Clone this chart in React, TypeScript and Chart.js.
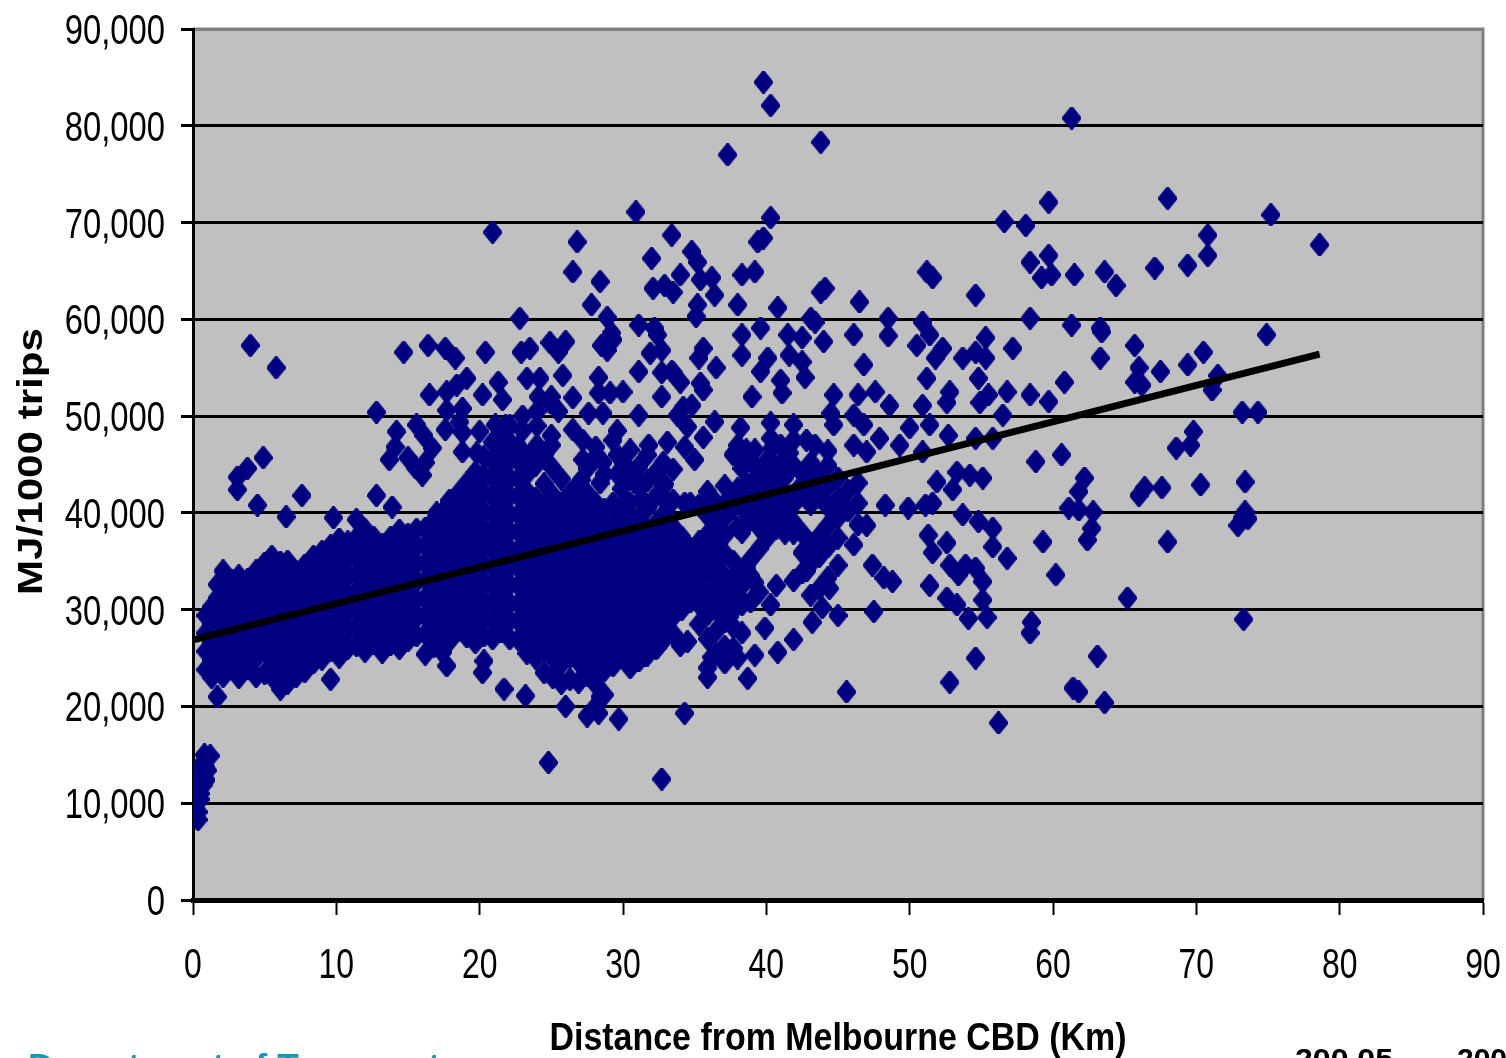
import React, { useEffect, useRef } from "react";
import { Chart, registerables } from "chart.js";

Chart.register(...registerables);

// Every row is [distance km, MJ/1000 trips, MJ/1000 trips, ...].
const nearCbd = [
  [0.35, 8300, 9100], [0.2, 9900, 11700], [0.5, 10400, 11000], [0.1, 11500], [0.4, 12400], [0.7, 11900, 13000],
  [0.9, 12400, 13700], [0.5, 13500], [0.7, 14200], [0.8, 15000], [1.2, 14900], [1.0, 13400],
];
const mass0to10 = [
  [0.9, 23800, 25700, 27600, 29400], [1.3, 23000, 24800, 26600, 28500, 30300],
  [1.7, 21000, 23900, 25700, 27500, 29400, 31200, 32600], [2.1, 23100, 25000, 26800, 28600, 30400, 32300, 34000],
  [2.7, 24000, 25800, 27700, 29500, 31300, 33000], [3.2, 23000, 24900, 26700, 28500, 30400, 32200, 33500],
  [3.8, 23900, 25800, 27600, 29400, 31300, 33100], [4.4, 23100, 25000, 26800, 28600, 30500, 32300, 34000],
  [5.0, 23400, 25800, 27600, 29500, 31300, 33100, 34800], [5.5, 23100, 24900, 26800, 28600, 30400, 32300, 34000, 35500],
  [6.1, 21800, 23900, 25800, 27600, 29500, 31300, 33100, 34900], [6.6, 22400, 24300, 26200, 28000, 29900, 31700, 33500, 35000],
  [7.2, 23100, 25000, 26800, 28700, 30500, 32300, 33900], [7.8, 23600, 25500, 27300, 29200, 31000, 32900, 34600],
  [8.4, 24500, 26300, 28200, 30000, 31900, 33700, 35500], [9.0, 24900, 26800, 28600, 30500, 32300, 34200, 36000],
  [9.6, 22800, 25800, 27700, 29500, 31400, 33200, 35000, 36600],
];
const mass10to20 = [
  [10.2, 25100, 26900, 28800, 30600, 32500, 34300, 36100, 37300], [10.8, 26000, 27800, 29700, 31500, 33400, 35200, 37000],
  [11.4, 26300, 28200, 30000, 31900, 33700, 35600, 37400], [12.0, 25700, 27500, 29400, 31200, 33100, 34900, 36700, 38300],
  [12.6, 26500, 28300, 30200, 32000, 33900, 35700, 37500], [13.2, 25600, 27500, 29300, 31200, 33000, 34800, 36700],
  [13.8, 26400, 28300, 30100, 32000, 33800, 35700, 37500], [14.4, 26000, 27800, 29700, 31500, 33400, 35200, 37000, 38200],
  [15.0, 26800, 28700, 30500, 32400, 34200, 36000, 37800], [15.6, 27300, 29200, 31000, 32900, 34700, 36500, 38300],
  [16.2, 25400, 27500, 29400, 31200, 33100, 34900, 36700, 38400], [16.8, 26200, 28100, 29900, 31800, 33600, 35500, 37300, 39200],
  [17.4, 25600, 27400, 29200, 31100, 32900, 34800, 36600, 38400, 40000], [17.9, 26800, 28700, 30500, 32400, 34200, 36100, 37900, 39700, 41000],
  [18.5, 27800, 29600, 31500, 33300, 35200, 37000, 38800, 40600, 42000], [19.1, 27200, 29100, 30900, 32800, 34600, 36500, 38300, 40100, 41900, 43100],
  [19.7, 26600, 28500, 30300, 32200, 34000, 35900, 37700, 39500, 41400, 43200, 44200],
];
const mass20to30 = [
  [20.3, 24700, 27300, 29200, 31000, 32900, 34700, 36600, 38400, 40200, 42100, 43900, 45800],
  [20.9, 27000, 28800, 30700, 32500, 34400, 36200, 38000, 39900, 41700, 43600, 45400, 47300],
  [21.5, 27700, 29500, 31400, 33200, 35100, 36900, 38700, 40600, 42400, 44300, 46100, 48000],
  [22.1, 27000, 28900, 30700, 32600, 34400, 36300, 38100, 39900, 41800, 43600, 45500, 47300, 49000],
  [22.7, 26900, 28800, 30600, 32500, 34300, 36100, 38000, 39800, 41700, 43500, 45300, 46900],
  [23.3, 25500, 27400, 29300, 31100, 33000, 34800, 36600, 38500, 40300, 42200, 44000, 45800],
  [23.9, 25000, 26800, 28700, 30500, 32400, 34200, 36000, 37900, 39700, 41500, 44900],
  [24.5, 23500, 25900, 27800, 29600, 31500, 33300, 35100, 37000, 38800, 40600, 43000, 46000],
  [25.1, 23000, 25000, 26800, 28700, 30500, 32400, 34200, 36000, 37900, 39700, 41800, 44600],
  [25.7, 22400, 24400, 26300, 28100, 30000, 31800, 33700, 35500, 37300, 39200, 41000, 43500],
  [26.3, 22800, 25100, 26900, 28800, 30600, 32500, 34300, 36100, 38000, 39800, 42000],
  [26.9, 22500, 24600, 26400, 28300, 30100, 32000, 33800, 35600, 37500, 39300, 41100, 43000],
  [27.5, 23200, 25000, 26900, 28700, 30600, 32400, 34200, 36100, 37900, 39700, 42000, 44600],
  [28.1, 20000, 22300, 24400, 26300, 28100, 30000, 31800, 33700, 35500, 37300, 39200, 41000, 46800],
  [28.7, 21200, 23700, 25500, 27400, 29200, 31100, 32900, 34800, 36600, 38400, 40300, 44000],
  [29.3, 24200, 26000, 27900, 29700, 31600, 33400, 35200, 37100, 38900, 41000],
  [29.9, 25100, 26900, 28800, 30600, 32500, 34300, 36100, 38000, 39900, 42500],
];
const mass30to47 = [
  [30.5, 24000, 25800, 27700, 29500, 31400, 33200, 35000, 36900, 38700, 41000, 43900],
  [31.1, 24700, 26600, 28400, 30300, 32100, 33900, 35800, 37600, 39500, 44800],
  [31.7, 25300, 27200, 29000, 30900, 32700, 34500, 36400, 38300, 40500, 43300, 46000],
  [32.3, 26000, 27900, 29700, 31500, 33400, 35200, 37100, 38900, 41700, 44200],
  [32.9, 27000, 28800, 30600, 32500, 34300, 36200, 38000, 40000, 43000],
  [33.5, 27500, 29300, 31200, 33000, 34800, 36700, 38500, 41300, 44500],
  [34.1, 30000, 32000, 33800, 35600, 37500],
  [34.7, 30800, 32700, 34500, 36300, 41000],
  [35.3, 28500, 31500, 33300, 35200, 37000, 40800],
  [35.9, 24000, 27000, 29500, 31400, 36000, 37800, 39700, 42200],
  [36.5, 25500, 27800, 30000, 32600, 36500, 38400, 41000],
  [37.1, 24500, 26200, 28800, 30900, 35800, 37700, 39500, 42800],
  [37.7, 26000, 28200, 30000, 35000, 40500, 46000],
  [38.3, 27600, 30500, 32500, 38000, 41600, 44600],
  [38.9, 30800, 33500, 35200, 39300, 42900, 45400],
  [39.5, 31800, 36300, 38500, 40500, 44300],
  [40.1, 37500, 39400, 41500, 43400, 45500],
  [40.7, 38400, 40600, 42400, 44200],
  [41.3, 37900, 39800, 41700, 43700, 45700],
  [41.9, 33000, 37900, 39000, 40900, 44900],
  [42.5, 33800, 35900, 37900, 42200, 44100],
  [43.1, 31500, 34800, 36800, 40900, 43000, 45200],
  [43.7, 32200, 35500, 37600, 41800, 44000],
  [44.3, 33300, 36500, 38700, 40600, 42700, 44900, 46400],
  [45.0, 37400, 39500, 41400, 43600],
  [45.7, 40200, 42300],
  [46.4, 38800, 41000, 43100],
];
const infill = [
  [21.8, 49000], [23.0, 48500, 50000], [24.0, 47000, 49000, 50500], [25.0, 47000, 48000, 52000], [25.5, 50500],
  [29.6, 44000, 46000, 48500], [30.2, 44500, 41000], [31.3, 41500, 43000], [33.0, 41200], [34.3, 41000, 46800],
  [35.0, 45500], [35.6, 34000, 35500, 30000, 32000], [36.2, 33500, 35000, 31300], [36.8, 34000, 35800, 32400, 29800],
  [37.4, 33000, 31200, 29300, 40500, 41500], [38.0, 31500, 33900, 38500, 42500, 47000],
  [38.6, 34300, 40000, 43000, 46500], [39.2, 32800, 41000, 43500, 46500], [39.8, 38000, 42000],
  [40.4, 42000, 46700], [41.0, 39000, 41500, 44800, 47000], [41.6, 40800, 46200], [42.2, 42400], [42.8, 34000, 47500],
];
const upper0to20 = [
  [4.0, 57300], [5.8, 55000], [4.9, 45700], [3.8, 44600], [3.1, 43700, 42400], [4.5, 40800], [7.6, 41800], [6.5, 39600],
  [12.8, 50400, 41800], [14.2, 48400], [14.1, 46800], [13.7, 45500], [15.6, 49100], [16.1, 48000], [16.7, 46700],
  [15.0, 45700], [15.5, 44700], [16.0, 43900], [16.2, 45200], [14.7, 56600], [16.4, 57300], [17.6, 57000, 48600],
  [18.3, 56000], [16.5, 52200], [17.7, 52500, 50600], [18.4, 53200], [19.1, 53900], [18.8, 50800, 48300, 46300],
  [18.6, 49400], [19.8, 46200], [13.9, 40600], [9.8, 39500], [11.4, 39300], [17.9, 41300], [17.0, 40000],
];
const upper20to36 = [
  [20.2, 52200], [21.3, 53500], [21.6, 51700], [20.0, 48400], [21.1, 49100], [20.4, 56600], [20.9, 69000],
  [22.8, 60100], [23.5, 57000], [22.9, 56600], [24.9, 57600, 51400], [26.0, 57700], [25.5, 56600], [26.8, 68000],
  [26.5, 64900, 51900, 48600], [28.4, 63900, 43100], [27.8, 61500], [28.9, 60200, 56800], [29.2, 58600], [29.3, 57900, 47500],
  [28.5, 57300], [31.1, 59400, 54600, 50100], [32.2, 59100], [32.4, 58400], [32.7, 56800, 54500, 52000], [31.9, 56500],
  [33.5, 54500, 62800], [33.1, 47300], [30.9, 71100], [33.4, 68700, 54600], [32.0, 66300], [34.0, 64600, 53500], [32.1, 63200],
  [32.9, 63500], [34.8, 67000, 51100], [35.2, 65900, 61500], [35.4, 64100, 53400], [36.2, 64300], [36.4, 62500, 49400],
  [35.1, 60300], [23.3, 53900], [24.2, 53900], [24.1, 52000], [25.8, 54200], [28.3, 54000, 52400], [29.1, 52400],
  [30.0, 52500, 45200], [27.6, 50300], [28.6, 50300, 45200], [27.2, 47500, 45500], [28.1, 45800], [27.1, 43400],
  [30.5, 46500], [31.8, 47000], [30.8, 43100], [32.8, 45200, 42700], [35.6, 57000, 52700, 47800], [35.3, 56000], [36.5, 55000],
  [34.2, 50900], [33.8, 50100], [34.5, 48900],
];
const upper36to57 = [
  [38.0, 61500], [38.3, 64600, 58400, 56300], [39.2, 64900], [39.4, 68000], [39.8, 68400, 84500], [40.3, 70500, 82100, 49300, 47700],
  [43.8, 78300, 62800], [37.3, 77000], [40.8, 61200], [44.1, 63200], [46.5, 61800], [51.2, 64900, 53900], [51.6, 64300],
  [54.6, 62500, 56600, 47700], [39.6, 59100, 54600], [40.1, 56000], [41.5, 58400], [42.5, 58100, 55600], [41.6, 56300],
  [42.7, 54000], [41.0, 53700], [41.1, 52400], [39.0, 52000], [43.1, 60100], [43.4, 59700, 47000], [44.0, 57700], [46.1, 58400, 50100, 47000],
  [48.5, 60100, 58300], [50.9, 59700, 51100, 46300], [51.4, 58400, 49100], [50.5, 57300], [52.3, 57000], [51.8, 56000], [53.7, 56000],
  [55.3, 58100, 56000], [57.2, 57000], [46.8, 55300, 49100], [54.8, 53900], [52.8, 52500], [52.6, 51400], [55.5, 52200],
  [54.9, 51400], [56.8, 52500], [56.5, 50100], [48.6, 51100], [46.4, 52200], [47.6, 52500], [44.7, 52200, 49100], [44.5, 50300],
  [38.2, 48800], [41.9, 49100, 47500], [47.9, 47700], [49.3, 47000], [50.0, 48800], [52.7, 48000], [55.8, 47700], [37.8, 46200], [47.0, 46300],
];
const lowerRight = [
  [55.1, 43600, 32900, 31000], [54.2, 43900], [53.3, 44200, 30500], [51.9, 43200], [53.0, 42400], [51.6, 41000, 35900], [51.1, 40800],
  [49.9, 40500], [48.3, 40800], [53.7, 39800], [54.8, 39100], [55.8, 38400, 36500], [56.8, 35300], [51.3, 37700], [52.6, 36900, 31200],
  [52.8, 34600, 22500], [53.9, 34600], [54.6, 34300, 25000], [53.4, 33600], [55.4, 29200], [54.1, 29100], [51.4, 32500], [48.8, 32900],
  [48.2, 33300], [47.4, 34600], [46.1, 36700], [47.5, 29800], [45.0, 29400, 34600], [43.9, 30200], [43.2, 28700], [41.9, 26900],
  [40.8, 25600], [39.2, 25300], [39.9, 28100], [40.3, 30500], [40.7, 32500], [44.4, 32200], [47.0, 38700], [38.7, 22900], [35.9, 23000],
  [38.0, 25000], [36.2, 25100], [45.6, 21500], [56.2, 18300], [34.3, 19300], [32.7, 12500], [34.5, 26700], [34.0, 26300], [32.4, 26100], [31.5, 25300],
];
const farRight = [
  [59.7, 72100, 66600, 51500], [68.0, 72500, 37000], [56.6, 70100], [58.1, 69700], [75.2, 70800], [70.8, 68700, 66600], [78.6, 67700],
  [58.4, 65900, 60100, 52200, 27600], [59.2, 64300], [59.9, 64600], [61.5, 64600], [63.6, 64900, 20400], [64.4, 63500], [67.1, 65300], [69.4, 65600, 55300],
  [61.3, 80800, 59400], [63.3, 59100, 56000], [63.4, 58700], [74.9, 58400], [65.7, 57300, 53500], [66.0, 55000, 41800], [67.5, 54600], [70.5, 56600],
  [71.5, 54200], [71.1, 52700], [66.2, 53200], [60.8, 53500], [73.2, 50400, 39500], [74.3, 50400], [69.8, 48400], [68.6, 46700], [69.6, 47000],
  [58.8, 45300], [60.6, 46000], [62.2, 43600], [61.8, 42200, 40300, 21500], [61.1, 40500], [62.8, 40100], [62.7, 38400], [62.4, 37200], [59.3, 37000],
  [60.2, 33600], [65.2, 31200], [66.4, 42600], [67.6, 42600], [70.3, 42900], [73.4, 43200, 40100], [72.9, 38700], [73.6, 39400], [73.3, 29000],
  [63.1, 25200], [61.4, 21900], [58.5, 28700],
];
const lowerMass = [
  [24.8, 14200], [20.2, 23500], [21.7, 21800], [23.2, 21100], [17.7, 24200], [26.0, 20000], [27.5, 19000], [28.3, 19300], [29.7, 18700], [28.4, 21000],
];
const trendKm = [0.1, 78.6];
const trendMj = [26900, 56400];

const yTickLabels = ["0", "10,000", "20,000", "30,000", "40,000", "50,000", "60,000", "70,000", "80,000", "90,000"];
const xTickLabels = ["0", "10", "20", "30", "40", "50", "60", "70", "80", "90"];
const xTitle = "Distance from Melbourne CBD (Km)";
const yTitle = "MJ/1000 trips";
const bands = [nearCbd, mass0to10, mass10to20, mass20to30, mass30to47, infill, upper0to20, upper20to36, upper36to57, lowerRight, farRight, lowerMass];

function diamond(): HTMLCanvasElement {
  const c = document.createElement("canvas");
  c.width = 19;
  c.height = 23;
  const g = c.getContext("2d")!;
  g.fillStyle = "#000080";
  g.beginPath();
  g.moveTo(8.5, 0);
  g.lineTo(10.5, 0);
  g.lineTo(19, 10.5);
  g.lineTo(19, 12.5);
  g.lineTo(10.5, 23);
  g.lineTo(8.5, 23);
  g.lineTo(0, 12.5);
  g.lineTo(0, 10.5);
  g.closePath();
  g.fill();
  return c;
}

function fitted(ctx: any, text: string, x: number, y: number, width: number, align: string) {
  const natural = ctx.measureText(text).width;
  const k = width / natural;
  ctx.save();
  ctx.translate(x, y);
  ctx.scale(k, 1);
  ctx.textAlign = align;
  ctx.fillText(text, 0, 0);
  ctx.restore();
}

const frame = {
  id: "frame",
  beforeDraw(chart: any) {
    const { ctx, chartArea: a } = chart;
    ctx.save();
    ctx.fillStyle = "#C0C0C0";
    ctx.fillRect(a.left, a.top, a.right - a.left, a.bottom - a.top);
    ctx.strokeStyle = "#808080";
    ctx.lineWidth = 3;
    ctx.beginPath();
    ctx.moveTo(a.left, a.top);
    ctx.lineTo(a.right, a.top);
    ctx.lineTo(a.right, a.bottom);
    ctx.stroke();
    ctx.restore();
  },
  afterDraw(chart: any) {
    const { ctx, scales } = chart;
    ctx.save();
    ctx.textBaseline = "alphabetic";
    ctx.fillStyle = "#000000";
    ctx.font = "42px 'Liberation Sans'";
    yTickLabels.forEach((t, i) => {
      const w = ctx.measureText(t).width * 0.78;
      fitted(ctx, t, 165, scales.y.getPixelForValue(i * 10000) + 15, w, "right");
    });
    xTickLabels.forEach((t, i) => {
      const w = ctx.measureText(t).width * 0.76;
      fitted(ctx, t, scales.x.getPixelForValue(i * 10), 978, w, "center");
    });
    ctx.font = "bold 38px 'Liberation Sans'";
    fitted(ctx, xTitle, (chart.chartArea.left + chart.chartArea.right) / 2, 1050, 577, "center");
    ctx.save();
    ctx.translate(42, 461.5);
    ctx.rotate(-Math.PI / 2);
    ctx.font = "bold 35px 'Liberation Sans'";
    fitted(ctx, yTitle, 0, 0, 267, "center");
    ctx.restore();
    ctx.fillStyle = "#0E9BB5";
    ctx.font = "bold 33px 'Liberation Sans'";
    fitted(ctx, "Department of Transport", 28, 1077, 412, "left");
    ctx.fillStyle = "#000000";
    ctx.font = "bold 30px 'Liberation Sans'";
    fitted(ctx, "200 05", 1295, 1069, 98, "left");
    ctx.fillText("200", 1457, 1069);
    ctx.restore();
  },
};

export default function App() {
  const ref = useRef<HTMLCanvasElement>(null);
  useEffect(() => {
    document.body.style.margin = "0";
    document.body.style.overflow = "hidden";
    const points = bands.flat().flatMap(([km, ...mj]) => mj.map((y) => ({ x: km, y })));
    const trend = trendKm.map((x, i) => ({ x, y: trendMj[i] }));
    const chart = new Chart(ref.current!, {
      type: "scatter",
      data: {
        datasets: [
          { label: "Trend", data: trend, showLine: true, borderColor: "#000000", borderWidth: 7, pointRadius: 0 },
          { label: "MJ/1000 trips", data: points, pointStyle: diamond(), backgroundColor: "#000080", borderWidth: 0, showLine: false },
        ],
      },
      options: {
        animation: false,
        responsive: false,
        devicePixelRatio: 1,
        layout: { padding: { top: 29, right: 23, left: 0, bottom: 0 } },
        plugins: { legend: { display: false }, tooltip: { enabled: false } },
        scales: {
          x: {
            type: "linear",
            min: 0,
            max: 90,
            afterFit(s: any) { s.height = 158; },
            border: { display: true, color: "#000000", width: 5 },
            grid: { drawOnChartArea: false, drawTicks: true, tickLength: 15, tickColor: "#000000", tickWidth: 2 },
            ticks: { stepSize: 10, display: false },
          },
          y: {
            type: "linear",
            min: 0,
            max: 90000,
            afterFit(s: any) { s.width = 193; },
            border: { display: true, color: "#000000", width: 3 },
            grid: {
              color: (c: any) => (c.tick.value === 90000 ? "#808080" : "#000000"),
              lineWidth: 3,
              tickLength: 12,
              tickColor: "#000000",
              tickWidth: 3,
            },
            ticks: { stepSize: 10000, display: false },
          },
        },
      },
      plugins: [frame],
    } as any);
    return () => chart.destroy();
  }, []);
  return <canvas ref={ref} width={1506} height={1058} style={{ display: "block", width: 1506, height: 1058 }} />;
}
